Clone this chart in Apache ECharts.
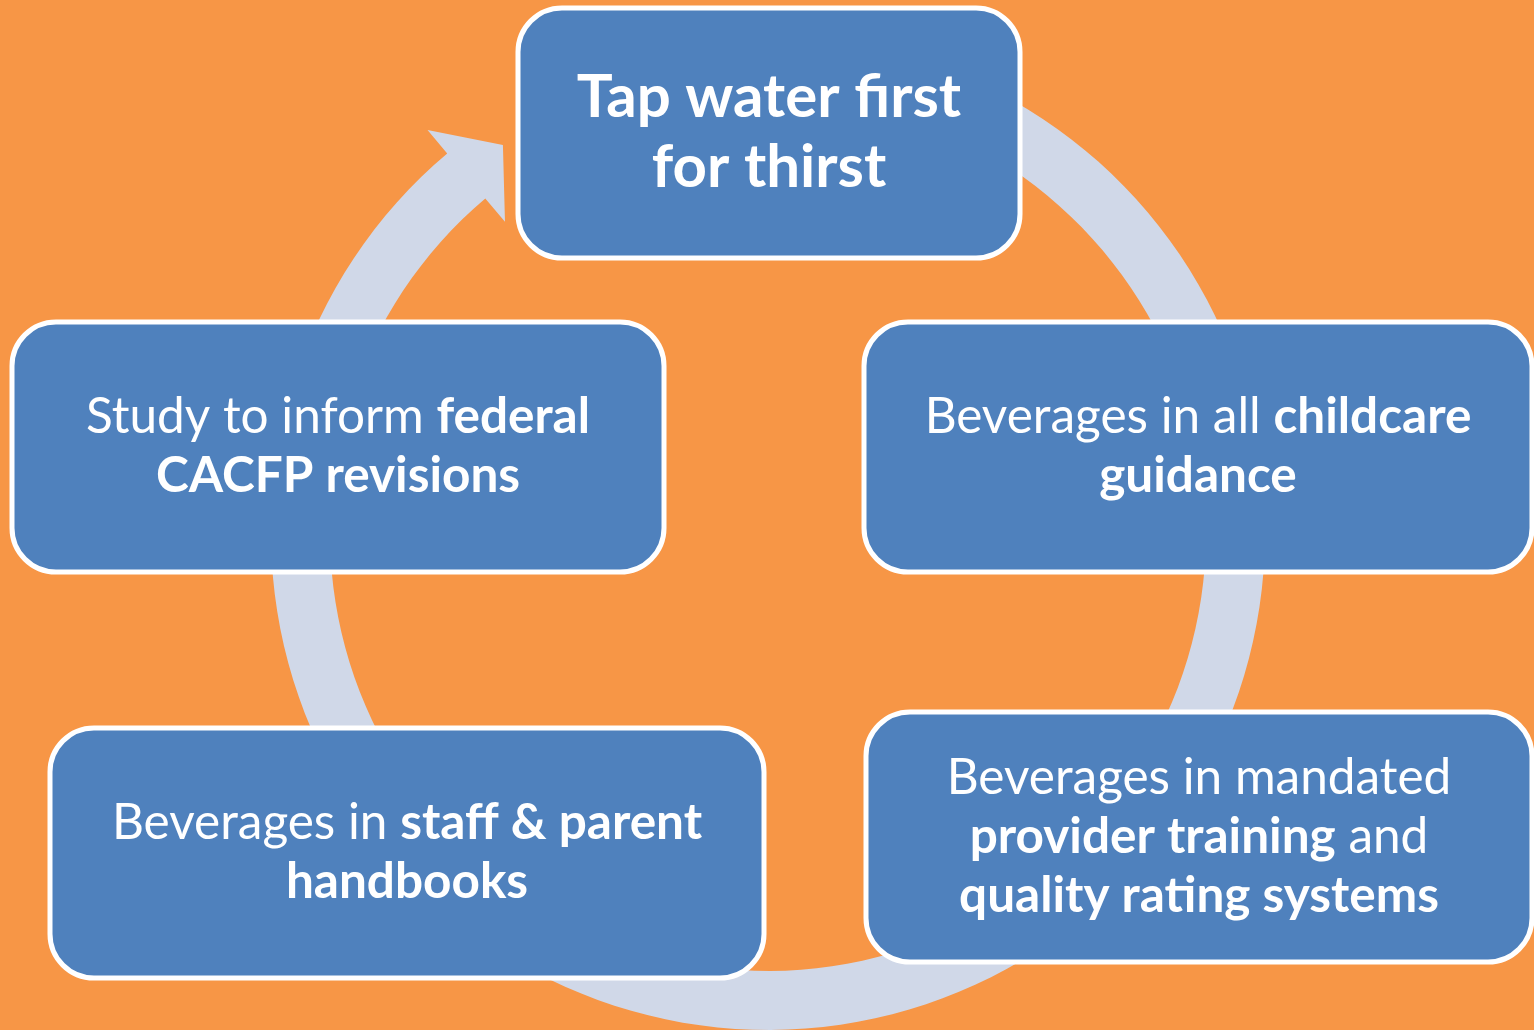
<!DOCTYPE html>
<html>
<head>
<meta charset="utf-8">
<script src="https://cdn.jsdelivr.net/npm/echarts@6/dist/echarts.min.js"></script>
<style>
  html, body { margin: 0; padding: 0; background: #F79646; }
  #chart { width: 1534px; height: 1030px; }
</style>
</head>
<body>
<div id="chart"></div>
<script>
// steps of the cycle, clockwise from the top ({n|...} normal, {b|...} bold)
var stepNames = ['top', 'rightTop', 'rightBottom', 'leftBottom', 'leftTop'];
var stepLabels = [
  '{t|Tap water first}\n{t|for thirst}',
  '{n|Beverages in all }{b|childcare}\n{b|guidance}',
  '{n|Beverages in mandated}\n{b|provider training}{n| and}\n{b|quality rating systems}',
  '{n|Beverages in }{b|staff & parent}\n{b|handbooks}',
  '{n|Study to inform }{b|federal}\n{b|CACFP revisions}'
];

// layout (pixel space of the hidden axes)
var boxCenterX = [769, 1198, 1199, 407, 338];
var boxCenterY = [133, 447, 837, 853, 447];
var boxWidth   = [502, 668, 666, 714, 652];
var boxHeight  = 250;
var ring = { cx: 768, cy: 533, r0: 438, r1: 497, start: -95, end: 229.8, headLen: 48, headHalf: 60 };

var FONT = 'Lato, "Open Sans", sans-serif';

var myChart = echarts.init(document.getElementById('chart'));

function ringItem(params, api) {
  var pts = [];
  var rad = Math.PI / 180;
  var n = 160, i, a;
  function p(r, deg) {
    return api.coord([ring.cx + r * Math.cos(deg * rad), ring.cy + r * Math.sin(deg * rad)]);
  }
  for (i = 0; i <= n; i++) {
    a = ring.start + (ring.end - ring.start) * i / n;
    pts.push(p(ring.r1, a));
  }
  var rm = (ring.r0 + ring.r1) / 2;
  var e = ring.end * rad;
  var bx = ring.cx + rm * Math.cos(e), by = ring.cy + rm * Math.sin(e);
  var nx = Math.cos(e), ny = Math.sin(e);   // radial
  var tx = -Math.sin(e), ty = Math.cos(e);  // tangent (clockwise)
  pts.push(api.coord([bx + nx * ring.headHalf, by + ny * ring.headHalf]));
  pts.push(api.coord([bx + tx * ring.headLen, by + ty * ring.headLen]));
  pts.push(api.coord([bx - nx * ring.headHalf, by - ny * ring.headHalf]));
  for (i = n; i >= 0; i--) {
    a = ring.start + (ring.end - ring.start) * i / n;
    pts.push(p(ring.r0, a));
  }
  return {
    type: 'polygon',
    shape: { points: pts },
    style: { fill: '#D0D8E8' }
  };
}

function boxItem(params, api) {
  var i = api.value(0);
  var c = api.coord([boxCenterX[i], boxCenterY[i]]);
  var w = boxWidth[i], h = boxHeight;
  return {
    type: 'group',
    children: [{
      type: 'rect',
      shape: { x: c[0] - w / 2, y: c[1] - h / 2, width: w, height: h, r: 44 },
      style: { fill: '#4F81BD', stroke: '#ffffff', lineWidth: 5 }
    }, {
      type: 'text',
      x: c[0],
      y: c[1],
      style: {
        text: stepLabels[i],
        align: 'center',
        verticalAlign: 'middle',
        fill: '#ffffff',
        rich: {
          t: { fontFamily: FONT, fontSize: 60, fontWeight: 'bold', lineHeight: 70, fill: '#ffffff' },
          n: { fontFamily: FONT, fontSize: 49.5, fontWeight: 'normal', lineHeight: 59, fill: '#ffffff' },
          b: { fontFamily: FONT, fontSize: 49.5, fontWeight: 'bold', lineHeight: 59, fill: '#ffffff' }
        }
      }
    }]
  };
}

var option = {
  backgroundColor: '#F79646',
  animation: false,
  grid: { left: 0, right: 0, top: 0, bottom: 0 },
  xAxis: { type: 'value', min: 0, max: 1534, show: false },
  yAxis: { type: 'value', min: 0, max: 1030, inverse: true, show: false },
  series: [{
    type: 'custom',
    name: 'cycle',
    renderItem: ringItem,
    data: [[0]],
    silent: true,
    z: 1
  }, {
    type: 'custom',
    name: 'steps',
    renderItem: boxItem,
    data: stepNames.map(function (s, i) { return [i]; }),
    silent: true,
    z: 2
  }]
};

myChart.setOption(option);
</script>
</body>
</html>
